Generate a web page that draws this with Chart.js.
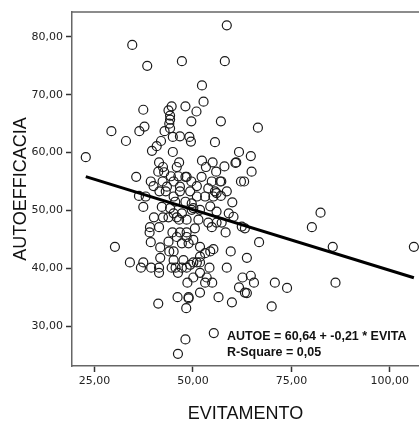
<!DOCTYPE html>
<html lang="it">
<head>
  <meta charset="utf-8">
  <title>AUTOEFFICACIA vs EVITAMENTO</title>
  <script src="https://cdn.jsdelivr.net/npm/chart.js"></script>
  <style>
    html, body { margin: 0; padding: 0; background: #fff; }
    canvas { display: block; }
  </style>
</head>
<body>
<canvas id="scatterChart" width="419" height="421"></canvas>

<script>
  // values
  const evitamento = [
    58.6, 34.6, 38.4, 47.2, 58.1, 52.3, 52.7, 37.4, 48.1, 50.9,
    44.6, 43.8, 44.2, 44.2, 44.0, 37.7, 36.4, 29.3, 42.8, 44.2,
    57.1, 49.6, 66.5, 33.0, 46.7, 44.9, 49.1, 49.5, 55.6, 41.9,
    40.8, 39.6, 44.9, 61.7, 64.7, 52.3, 55.0, 46.5, 41.4, 61.0,
    58.0, 42.4, 45.9, 53.3, 60.8, 64.9, 55.9, 41.2, 42.7, 35.6,
    48.1, 48.4, 52.2, 44.4, 46.3, 57.2, 56.9, 62.2, 63.0, 39.3,
    42.3, 45.1, 49.6, 54.8, 40.0, 51.0, 43.4, 46.7, 36.3, 38.0,
    46.7, 49.3, 53.1, 55.2, 57.1, 58.6, 55.6, 56.0, 53.9, 41.5,
    43.1, 45.1, 51.0, 60.0, 48.1, 49.7, 45.5, 37.4, 42.1, 44.2,
    49.7, 50.1, 51.8, 54.4, 56.0, 59.1, 40.1, 42.4, 43.8, 45.9,
    46.5, 48.4, 51.4, 53.9, 56.0, 57.3, 60.3, 45.1, 47.2, 62.4,
    63.2, 41.4, 39.1, 39.0, 44.8, 46.7, 48.4, 50.5, 54.8, 58.3,
    39.3, 30.2, 66.8, 48.4, 50.1, 45.9, 43.8, 51.8, 41.7, 44.0,
    45.1, 54.4, 55.2, 59.6, 47.2, 48.9, 41.7, 63.7, 34.0, 37.4,
    36.8, 39.4, 41.4, 41.4, 44.6, 45.6, 46.2, 47.2, 48.4, 49.3,
    50.1, 51.0, 51.8, 54.2, 58.6, 50.1, 51.8, 53.5, 53.1, 54.9,
    48.6, 62.6, 64.7, 65.5, 70.8, 73.9, 47.6, 45.1, 51.8, 53.1,
    61.7, 63.2, 63.7, 51.8, 56.5, 59.9, 46.1, 48.9, 48.9, 41.2,
    48.3, 70.0, 55.3, 48.1, 46.2, 80.2, 82.4, 85.5, 86.2, 106.1,
    22.8
  ];
  const autoefficacia = [
    82.0, 78.6, 75.0, 75.8, 75.8, 71.6, 68.8, 67.4, 68.0, 67.1,
    68.0, 67.3, 66.4, 65.7, 65.0, 64.5, 63.7, 63.7, 63.7, 64.2,
    65.4, 65.4, 64.3, 62.0, 62.8, 62.7, 62.7, 61.9, 61.8, 62.0,
    61.1, 60.3, 60.1, 60.1, 59.4, 58.6, 58.3, 58.3, 58.3, 58.3,
    57.6, 57.5, 57.5, 57.5, 58.2, 56.7, 56.7, 56.7, 56.6, 55.8,
    55.8, 55.8, 55.8, 55.9, 55.9, 55.0, 55.0, 55.0, 55.0, 55.0,
    55.0, 55.0, 55.0, 55.0, 54.2, 54.2, 54.1, 54.1, 52.5, 52.4,
    53.3, 53.3, 52.4, 52.4, 52.5, 53.3, 53.3, 53.0, 53.8, 53.3,
    53.3, 52.4, 52.4, 51.4, 51.5, 51.2, 51.5, 50.6, 50.6, 50.4,
    50.1, 50.4, 50.1, 50.7, 49.8, 49.5, 48.8, 48.8, 48.8, 48.8,
    48.4, 48.4, 48.4, 47.9, 47.9, 47.9, 48.9, 49.5, 49.5, 47.2,
    46.9, 47.1, 47.1, 46.2, 46.2, 46.2, 46.2, 46.9, 47.1, 46.2,
    44.5, 43.7, 44.5, 45.4, 44.9, 45.4, 44.6, 43.7, 43.6, 42.9,
    42.9, 42.9, 43.3, 42.9, 44.3, 44.3, 41.8, 41.8, 41.0, 41.0,
    40.1, 40.1, 40.1, 39.2, 40.1, 40.1, 39.2, 40.1, 40.1, 40.6,
    41.0, 41.0, 41.0, 40.1, 40.1, 38.4, 39.2, 38.4, 37.5, 37.5,
    37.5, 38.4, 38.7, 37.5, 37.5, 36.6, 41.4, 41.4, 42.0, 42.6,
    36.7, 35.8, 35.7, 35.8, 35.0, 34.1, 35.0, 35.0, 34.8, 33.9,
    33.1, 33.4, 28.8, 27.7, 25.2, 47.1, 49.6, 43.7, 37.5, 43.7,
    59.2
  ];

  // fit line: AUTOE = 60,64 + -0,21 * EVITA
  const lineX = [22.8, 106.1];
  const lineY = [55.85, 38.36];

  const xTicks = [25, 50, 75, 100];
  const yTicks = [30, 40, 50, 60, 70, 80];
  const fitLabels = ['AUTOE = 60,64 + -0,21 * EVITA', 'R-Square = 0,05'];

  function fmt(v) {
    return v.toFixed(2).replace('.', ',');
  }

  const points = evitamento.map((x, i) => ({ x: x, y: autoefficacia[i] }));
  const linePoints = lineX.map((x, i) => ({ x: x, y: lineY[i] }));

  const frameAndText = {
    id: 'frameAndText',
    afterDraw(chart) {
      const ctx = chart.ctx;
      const a = chart.chartArea;
      ctx.save();
      ctx.strokeStyle = '#666';
      ctx.lineWidth = 1.5;
      ctx.beginPath();
      ctx.moveTo(a.left, a.top);
      ctx.lineTo(a.right, a.top);
      ctx.stroke();

      ctx.fillStyle = '#111';
      ctx.font = 'bold 12.5px "Liberation Sans", Arial, sans-serif';
      ctx.textBaseline = 'middle';
      ctx.fillText(fitLabels[0], 227, 337);
      ctx.fillText(fitLabels[1], 227, 353);
      ctx.restore();
    }
  };

  const tickFont = { family: '"DejaVu Sans", sans-serif', size: 11 };
  const titleFont = { family: '"Liberation Sans", Arial, sans-serif', size: 18, lineHeight: 0.8 };

  new Chart(document.getElementById('scatterChart'), {
    type: 'scatter',
    data: {
      datasets: [{
        type: 'line',
        data: linePoints,
        borderColor: '#000',
        borderWidth: 3,
        pointRadius: 0,
        fill: false,
        order: 0
      }, {
        data: points,
        pointRadius: 4.5,
        pointBorderColor: '#1a1a1a',
        pointBackgroundColor: 'rgba(0,0,0,0)',
        pointBorderWidth: 1.2,
        order: 1
      }]
    },
    options: {
      responsive: false,
      animation: false,
      layout: { autoPadding: false, padding: { top: 12, right: 0, left: 0, bottom: 0 } },
      plugins: {
        legend: { display: false },
        tooltip: { enabled: false }
      },
      scales: {
        x: {
          type: 'linear',
          min: 19.3,
          max: 107.4,
          afterBuildTicks: s => { s.ticks = xTicks.map(v => ({ value: v })); },
          afterFit: s => { s.height = 55; s.paddingLeft = 0; s.paddingRight = 0; },
          ticks: { callback: v => fmt(v), font: tickFont, color: '#222', padding: 3, maxRotation: 0 },
          grid: { drawOnChartArea: false, drawTicks: true, tickLength: 6, tickColor: '#333', tickWidth: 1.5 },
          border: { display: true, color: '#666', width: 1.5 },
          title: { display: true, text: 'EVITAMENTO', font: titleFont, color: '#111', padding: { top: 0, bottom: 0 } }
        },
        y: {
          type: 'linear',
          min: 23.1,
          max: 84.3,
          afterBuildTicks: s => { s.ticks = yTicks.map(v => ({ value: v })); },
          afterFit: s => { s.width = 72; s.paddingTop = 0; s.paddingBottom = 0; },
          ticks: { callback: v => fmt(v), font: tickFont, color: '#222', padding: 3 },
          grid: { drawOnChartArea: false, drawTicks: true, tickLength: 6, tickColor: '#333', tickWidth: 1.5 },
          border: { display: true, color: '#666', width: 1.5 },
          title: { display: true, text: 'AUTOEFFICACIA', font: titleFont, color: '#111', padding: { top: 14, bottom: 0 } }
        }
      }
    },
    plugins: [frameAndText]
  });
</script>
</body>
</html>
